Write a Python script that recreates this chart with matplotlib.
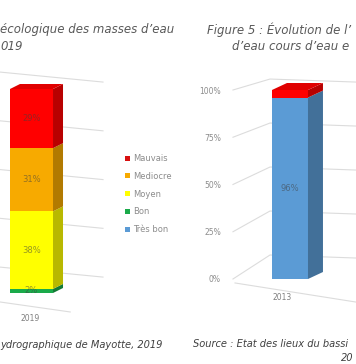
import matplotlib
matplotlib.use("Agg")
import matplotlib.pyplot as plt
from matplotlib.patches import Polygon, Patch

# stack categories (legend order, top to bottom)
categories = ["Mauvais", "Mediocre", "Moyen", "Bon", "Très bon"]
colors = ["#FF0000", "#F7AA00", "#FFFF00", "#1AAA4A", "#5B9BD5"]

left_year = "2019"
left_values = [29, 31, 38, 2, 0]

right_year = "2013"
right_values = [4, 0, 0, 0, 96]

ticks = [0, 25, 50, 75, 100]
tick_labels = ["0%", "25%", "50%", "75%", "100%"]

W, H = 356, 364
fig = plt.figure(figsize=(W / 100, H / 100), dpi=100)
fig.patch.set_facecolor("white")


def shade(c, f):
    r, g, b = matplotlib.colors.to_rgb(c)
    return (r * f, g * f, b * f)


def bar3d(ax, values, dx, dy, min_label, w=0.8):
    bottom = 0
    for cat, val, col in reversed(list(zip(categories, values, colors))):
        if val == 0:
            continue
        ax.bar(0, val, width=w, bottom=bottom, color=col, zorder=3)
        side = [(w / 2, bottom), (w / 2 + dx, bottom + dy),
                (w / 2 + dx, bottom + val + dy), (w / 2, bottom + val)]
        ax.add_patch(Polygon(side, closed=True, fc=shade(col, 0.72), ec="none",
                             zorder=3, clip_on=False))
        if val >= min_label:
            ax.text(0, bottom + val / 2, f"{val}%", ha="center", va="center",
                    fontsize=6, color="#404040", alpha=0.55, zorder=4)
        bottom += val
        top_col = col
    top = [(-w / 2, bottom), (-w / 2 + dx, bottom + dy),
           (w / 2 + dx, bottom + dy), (w / 2, bottom)]
    ax.add_patch(Polygon(top, closed=True, fc=shade(top_col, 0.88), ec="none",
                         zorder=3, clip_on=False))


grid_kw = dict(color="#dcdcdc", lw=0.8, zorder=0, clip_on=False)

# ---- left chart (cropped) ----
axl = fig.add_axes([0, 1 - 293 / H, 110 / W, 204 / H])
axl.set_xlim(-0.586, 1.46)
axl.set_ylim(0, 100)
for v in ticks:
    vb = 12.7 + 0.956 * v
    axl.plot([-0.586, 1.33], [vb, vb - 4.9], **grid_kw)
axl.plot([-0.586, 0.72], [-4.4, -9.3], **grid_kw)
bar3d(axl, left_values, 0.186, 2.45, 1)
axl.text(-0.03, -12.3, left_year, ha="center", va="center", fontsize=5.5,
         color="#7f7f7f")
axl.axis("off")

# ---- right chart (cropped) ----
axr = fig.add_axes([225 / W, 1 - 279 / H, 131 / W, 189 / H])
axr.set_xlim(-1.444, 1.467)
axr.set_ylim(0, 100)
for v in ticks:
    vb = 12.7 + 0.931 * v
    axr.plot([-1.267, -0.444, 1.467], [v, vb, vb - 1.6], **grid_kw)
axr.plot([-1.222, 1.467], [-2.1, -12.2], **grid_kw)
bar3d(axr, right_values, 0.333, 3.7, 5)
axr.text(-0.18, -10, right_year, ha="center", va="center", fontsize=5.5,
         color="#7f7f7f")
axr.set_xticks([])
axr.set_yticks(ticks)
axr.set_yticklabels(tick_labels)
axr.tick_params(axis="y", length=0, labelsize=5.5, labelcolor="#8c8c8c", pad=3)
for s in axr.spines.values():
    s.set_visible(False)
axr.patch.set_alpha(0)

# legend of left chart
handles = [Patch(fc=c, ec="none") for c in colors]
handles[0] = Patch(fc="#D81010", ec="none")
leg = fig.legend(handles, categories, loc="upper left",
                 bbox_to_anchor=(125 / W, 1 - 154 / H), frameon=False,
                 fontsize=6, handlelength=0.55, handleheight=0.55,
                 handletextpad=0.4, labelspacing=1.05, borderaxespad=0,
                 borderpad=0)
for t in leg.get_texts():
    t.set_color("#8c8c8c")

# titles and sources (as much as the crop shows)
tkw = dict(fontsize=8.5, style="italic", color="#595959", va="center")
fig.text(0 / W, 1 - 30 / H, "écologique des masses d’eau", ha="left", **tkw)
fig.text(0 / W, 1 - 46 / H, "019", ha="left", **tkw)
fig.text(207 / W, 1 - 30 / H, "Figure 5 : Évolution de l’", ha="left", **tkw)
fig.text(232 / W, 1 - 47 / H, "d’eau cours d’eau e", ha="left", **tkw)

skw = dict(fontsize=7.1, style="italic", color="#404040", va="center")
fig.text(0 / W, 1 - 345 / H, "ydrographique de Mayotte, 2019", ha="left", **skw)
fig.text(193 / W, 1 - 344 / H, "Source : Etat des lieux du bassi", ha="left", **skw)
fig.text(341 / W, 1 - 358 / H, "20", ha="left", **skw)

fig.savefig("out.png", dpi=100)
